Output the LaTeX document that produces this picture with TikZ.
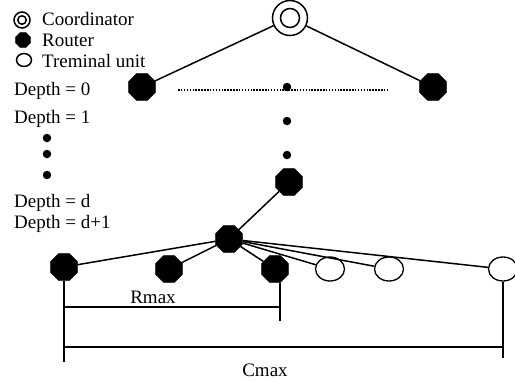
\documentclass[tikz,border=0pt]{standalone}
\usepackage{fontspec}
\setmainfont{Liberation Serif}
\usetikzlibrary{shapes.geometric}
\begin{document}
\begin{tikzpicture}[x=1pt,y=-1pt,
  router/.style={regular polygon,regular polygon sides=8,fill=black,draw=black,inner sep=0pt,minimum size=29pt},
  smallrouter/.style={regular polygon,regular polygon sides=8,fill=black,draw=black,inner sep=0pt,minimum size=16pt},
  term/.style={ellipse,draw=black,line width=1.3pt,inner sep=0pt,minimum width=29pt,minimum height=24pt},
  coord/.style={circle,draw=black,line width=1.5pt,inner sep=0pt,minimum size=#1},
  dot/.style={circle,fill=black,inner sep=0pt,minimum size=8.5pt},
  link/.style={line width=1.5pt},
  lbl/.style={font=\fontsize{19}{20}\selectfont,inner sep=0pt,anchor=base west}]
\useasboundingbox (0,0) rectangle (515,381);
% legend
\node[coord=16pt] (lc) at (22,20) {};
\node[coord=8.5pt] (lci) at (22,20) {};
\node[smallrouter] (lr) at (23,40) {};
\node[ellipse,draw=black,line width=1.5pt,inner sep=0pt,minimum width=15pt,minimum height=13pt] (lt) at (24,60) {};
\node[lbl] (tc) at (42,25) {Coordinator};
\node[lbl] (tr) at (42,46) {Router};
\node[lbl] (tt) at (42,67) {Treminal unit};
\node[lbl] (d0) at (14,95) {Depth = 0};
\node[lbl] (d1) at (14,123) {Depth = 1};
\node[dot] (ld1) at (47,138) {};
\node[dot] (ld2) at (47,154) {};
\node[dot] (ld3) at (47,175) {};
\node[lbl] (dd) at (14,207) {Depth = d};
\node[lbl] (dd1) at (14,228) {Depth = d+1};
% tree
\node[coord=35pt] (c) at (290,18) {};
\node[coord=19pt] (ci) at (290,18) {};
\node[router] (a) at (142,87) {};
\node[router] (b) at (433,87) {};
\draw[link] (c) -- (a);
\draw[link] (c) -- (b);
\coordinate (dl) at (178,90);
\coordinate (dr) at (388,90);
\draw[line width=2.6pt,dash pattern=on 1.5pt off 1.4pt] (dl) -- (dr);
\node[dot] (v1) at (287,87) {};
\node[dot] (v2) at (287,121) {};
\node[dot] (v3) at (287,155) {};
\node[router] (rd) at (289,182) {};
\node[router] (rd1) at (229,239) {};
\draw[link] (rd) -- (rd1);
\node[router] (b1) at (64,267) {};
\node[router] (b2) at (169,269) {};
\node[router] (b3) at (275,269) {};
\node[term] (e1) at (330,269) {};
\node[term] (e2) at (389,269) {};
\node[term] (e3) at (503,269) {};
\foreach \n in {b1,b2,b3,e1,e2,e3} \draw[link] (rd1) -- (\n);
% dimensions
\coordinate (p1) at (64,362);
\coordinate (p3) at (280,321);
\coordinate (p6) at (503,358);
\coordinate (r1) at (64,307);
\coordinate (r2) at (280,307);
\coordinate (c1) at (64,347);
\coordinate (c2) at (503,347);
\draw[link] (b1.south) -- (p1);
\draw[link] (b3.south -| p3) -- (p3);
\draw[link] (e3.south) -- (p6);
\draw[link] (r1) -- (r2);
\draw[link] (c1) -- (c2);
\node[font=\fontsize{19}{20}\selectfont,inner sep=0pt,anchor=base] (rm) at (153,303) {Rmax};
\node[font=\fontsize{19}{20}\selectfont,inner sep=0pt,anchor=base] (cm) at (265,376) {Cmax};
\end{tikzpicture}
\end{document}
